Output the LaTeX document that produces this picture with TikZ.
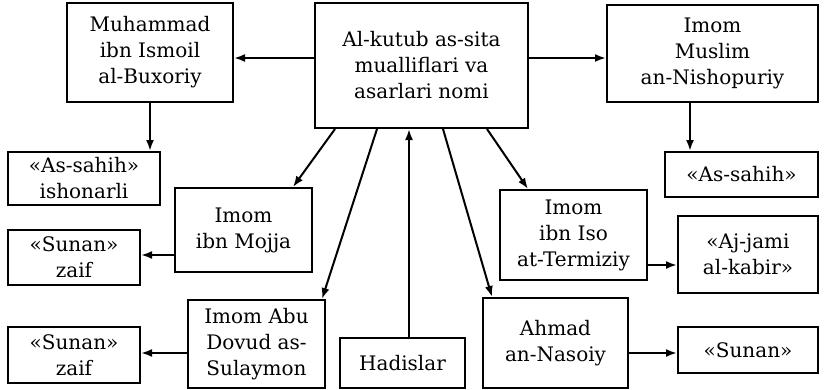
\documentclass[tikz,border=0pt]{standalone}
\usepackage{fontspec}
\setmainfont{DejaVu Serif}
\usetikzlibrary{arrows.meta,positioning}
\tikzset{
mybox/.style 2 args={
  rectangle,
  draw=black,
  line width=2pt,
  minimum width=#1pt,
  minimum height=#2pt,
  inner sep=2pt,
  align=center,
  font=\fontsize{20}{26}\selectfont
  },
link/.style={-{Latex[length=11pt,width=8pt]}, line width=2pt}
}
\begin{document}
\begin{tikzpicture}[x=1pt, y=-1pt]
\useasboundingbox (0,0) rectangle (825,389);

\node[mybox={213}{125}] (kutub) at (421.5,65.5) {Al-kutub as-sita\\mualliflari va\\asarlari nomi};
\node[mybox={166}{99}] (buxoriy) at (150,52.5) {Muhammad\\ibn Ismoil\\al-Buxoriy};
\node[mybox={211}{97}] (muslim) at (712.5,53.5) {Imom\\Muslim\\an-Nishopuriy};
\node[mybox={152}{53}] (sahihA) at (84,178.5) {«As-sahih»\\ishonarli};
\node[mybox={153}{45}] (sahihB) at (741.5,174.5) {«As-sahih»};
\node[mybox={137}{84}] (mojja) at (243.5,230) {Imom\\ibn Mojja};
\node[mybox={132}{55}] (sunanA) at (74,257.5) {«Sunan»\\zaif};
\node[mybox={137}{88}] (dovud) at (256.5,344) {Imom Abu\\Dovud as-\\Sulaymon};
\node[mybox={132}{56}] (sunanB) at (74,355) {«Sunan»\\zaif};
\node[mybox={125}{50}] (hadis) at (402.5,363) {Hadislar};
\node[mybox={147}{90}] (termiziy) at (573.5,235) {Imom\\ibn Iso\\at-Termiziy};
\node[mybox={140}{77}] (jami) at (748,254.5) {«Aj-jami\\al-kabir»};
\node[mybox={145}{90}] (nasoiy) at (555.5,343) {Ahmad\\an-Nasoiy};
\node[mybox={140}{46}] (sunanC) at (748,350) {«Sunan»};

\begin{scope}
\coordinate (kl) at ([yshift=7.5pt]kutub.west);
\coordinate (kr) at ([yshift=7.5pt]kutub.east);
\draw[link] (kl) -- (kl -| buxoriy.east);
\draw[link] (kr) -- (kr -| muslim.west);
\end{scope}

\begin{scope}
\coordinate (bd) at (buxoriy.south);
\coordinate (md) at ([xshift=-22.5pt]muslim.south);
\draw[link] (bd) -- (bd |- sahihA.north);
\draw[link] (md) -- (md |- sahihB.north);
\end{scope}

\begin{scope}
\draw[link] ([xshift=-86.5pt]kutub.south) -- ([xshift=49.5pt]mojja.north);
\draw[link] ([xshift=-44.5pt]kutub.south) -- ([xshift=65.5pt]dovud.north);
\draw[link] ([xshift=21.5pt]kutub.south) -- ([xshift=-63.5pt]nasoiy.north);
\draw[link] ([xshift=65.5pt]kutub.south) -- ([xshift=-45.5pt]termiziy.north);
\draw[link] ([xshift=6.5pt]hadis.north) -- ([xshift=6.5pt]hadis.north |- kutub.south);
\end{scope}

\begin{scope}
\coordinate (mw) at ([yshift=-25pt]mojja.west);
\coordinate (dw) at ([yshift=-9pt]dovud.west);
\coordinate (te) at ([yshift=-30pt]termiziy.east);
\coordinate (ne) at ([yshift=-10pt]nasoiy.east);
\draw[link] (mw) -- (mw -| sunanA.east);
\draw[link] (dw) -- (dw -| sunanB.east);
\draw[link] (te) -- (te -| jami.west);
\draw[link] (ne) -- (ne -| sunanC.west);
\end{scope}
\end{tikzpicture}
\end{document}
